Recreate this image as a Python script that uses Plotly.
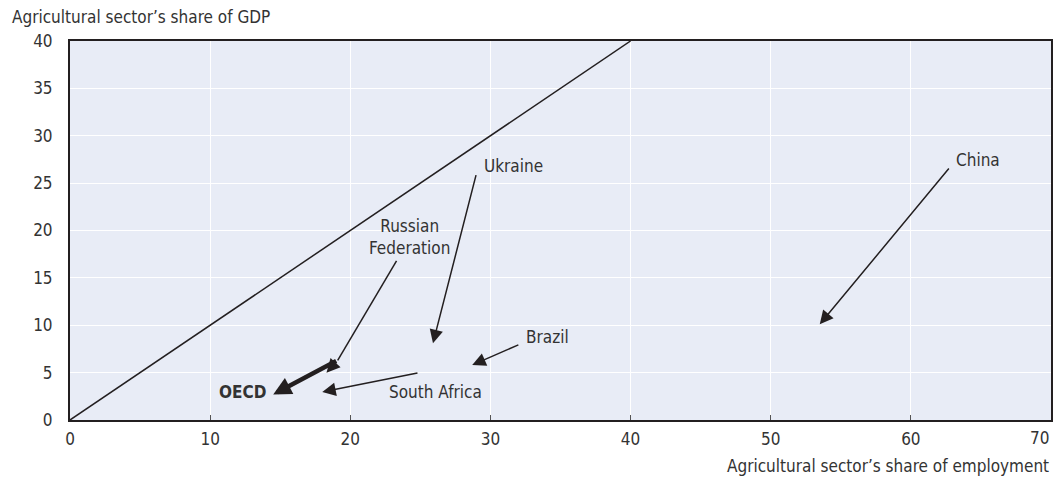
import plotly.graph_objects as go

# Data (start = earlier year, end = later year)
countries = ["OECD", "Russian Federation", "South Africa", "Ukraine", "Brazil", "China"]
emp_start = [19.1, 19.1, 24.9, 29.0, 32.1, 62.8]
gdp_start = [6.3, 6.3, 5.0, 26.0, 8.0, 26.7]
emp_end = [14.5, 18.3, 18.0, 25.9, 28.7, 53.5]
gdp_end = [2.7, 5.0, 2.95, 8.1, 5.8, 10.1]

label_text = ["<b>OECD</b>", "Russian<br>Federation", "South Africa", "Ukraine", "Brazil", "China"]
label_x = [14.1, 24.2, 22.6, 29.4, 32.4, 63.1]
label_y = [2.95, 19.3, 2.95, 26.8, 8.8, 27.4]
label_anchor = ["right", "center", "left", "left", "left", "left"]

# Russian Federation leader line (label -> start point)
leader_x = [23.3, 19.1]
leader_y = [16.8, 6.3]

diag_x = [0, 40]
diag_y = [0, 40]

x_ticks = [0, 10, 20, 30, 40, 50, 60, 70]
x_ticktext = ["0", "10", "20", "30", "40", "50", "60", ""]
y_ticks = [0, 5, 10, 15, 20, 25, 30, 35, 40]

FONT = "DejaVu Sans Condensed, Liberation Sans Narrow, sans-serif"
TXT = "#231f20"
LBL = "#333333"
FS = 17

fig = go.Figure()
fig.add_trace(go.Scatter(x=diag_x, y=diag_y, mode="lines",
                         line=dict(color=TXT, width=1.5), hoverinfo="skip", showlegend=False))
fig.add_trace(go.Scatter(x=leader_x, y=leader_y, mode="lines",
                         line=dict(color=TXT, width=1.5), hoverinfo="skip", showlegend=False))

for i, c in enumerate(countries):
    thick = c == "OECD"
    fig.add_annotation(x=emp_end[i], y=gdp_end[i], ax=emp_start[i], ay=gdp_start[i],
                       xref="x", yref="y", axref="x", ayref="y", text="",
                       showarrow=True, arrowhead=2,
                       arrowsize=0.8 if thick else 1.8,
                       arrowwidth=4.5 if thick else 1.5,
                       arrowcolor=TXT, standoff=0, startstandoff=0)
    fig.add_annotation(x=label_x[i], y=label_y[i], xref="x", yref="y",
                       text=label_text[i], showarrow=False, xanchor=label_anchor[i],
                       yanchor="middle", align="center",
                       font=dict(family=FONT, size=FS, color=LBL))

# last x tick label, right-aligned to the plot edge
fig.add_annotation(x=x_ticks[-1], xref="x", y=0, yref="paper", yshift=-6,
                   text=str(x_ticks[-1]), showarrow=False, xanchor="right", yanchor="top",
                   font=dict(family=FONT, size=FS, color=LBL))

fig.add_annotation(x=0, xref="paper", xshift=-60, y=1, yref="paper", yshift=12,
                   text="Agricultural sector\u2019s share of GDP", showarrow=False,
                   xanchor="left", yanchor="bottom",
                   font=dict(family=FONT, size=FS, color=LBL))
fig.add_annotation(x=1, xref="paper", y=0, yref="paper", yshift=-34,
                   text="Agricultural sector\u2019s share of employment", showarrow=False,
                   xanchor="right", yanchor="top",
                   font=dict(family=FONT, size=FS, color=LBL))

fig.update_layout(
    width=1056, height=480,
    margin=dict(l=70, r=3, t=41, b=60),
    paper_bgcolor="white", plot_bgcolor="#e8ecf6",
    font=dict(family=FONT, size=FS, color=LBL),
    showlegend=False,
)
fig.update_xaxes(range=[0, 70], tickvals=x_ticks, ticktext=x_ticktext,
                 showgrid=True, gridcolor="white", gridwidth=1.2,
                 zeroline=False, showline=True, linecolor=TXT, linewidth=2, mirror=True,
                 ticks="inside", ticklen=5, tickcolor="#555555", tickwidth=1, ticklabelstandoff=3)
fig.update_yaxes(range=[0, 40], tickvals=y_ticks, showgrid=True, gridcolor="white", gridwidth=1.2,
                 zeroline=False, showline=True, linecolor=TXT, linewidth=2, mirror=True,
                 ticks="", ticklabelstandoff=12)

fig.write_html("out.html", config={"displayModeBar": False},
               post_script="document.body.style.margin='0px';")
